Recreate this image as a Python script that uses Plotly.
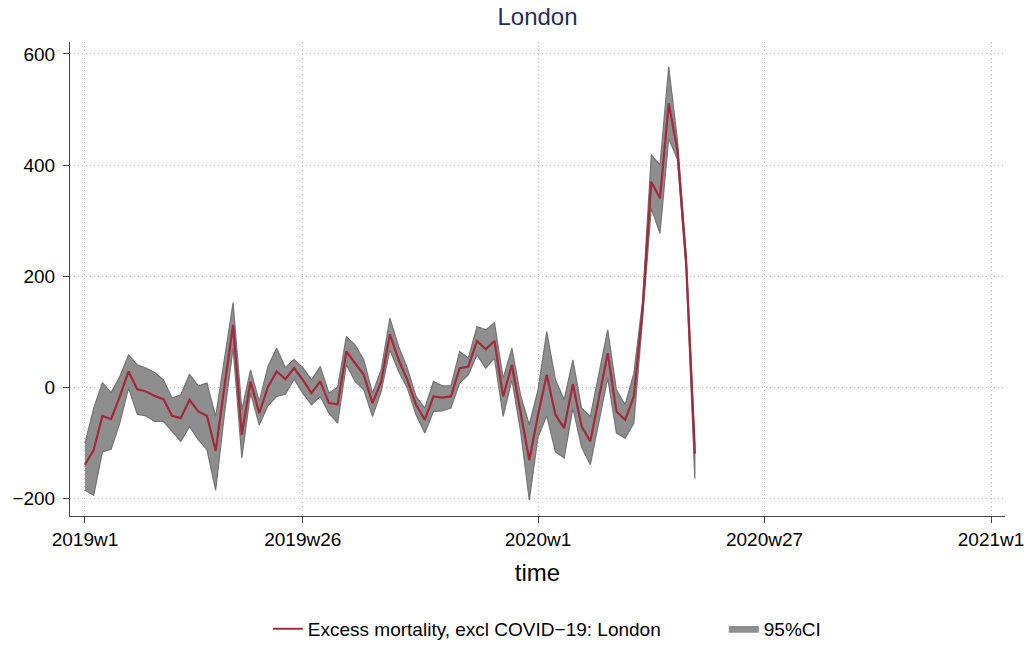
import plotly.graph_objects as go

# week index: 0 = 2019w1, 52 = 2020w1 (52 weeks per year)
weeks = list(range(71))

excess = [-140, -113, -52, -58, -17, 28, -4, -8, -16, -22,
          -52, -56, -23, -44, -52, -115, 0, 112, -86, 10,
          -47, 0, 28, 14, 34, 13, -11, 10, -29, -31,
          64, 43, 22, -29, 10, 95, 49, 13, -32, -59,
          -17, -19, -17, 34, 37, 83, 68, 83, -17, 40,
          -45, -132, -50, 22, -50, -74, 5, -71, -98, -20,
          61, -44, -59, -17, 139, 370, 340, 511, 427, 225,
          -120]

ci_upper = [-101, -38, 8, -10, 19, 58, 40, 34, 26, 13,
            -20, -14, 23, 2, 7, -53, 50, 152, -41, 31,
            -26, 37, 70, 35, 50, 35, 13, 37, -11, 0,
            91, 76, 49, -11, 31, 124, 73, 34, -17, -38,
            10, 2, 2, 64, 52, 109, 103, 116, 16, 70,
            -15, -68, -5, 100, 13, -23, 49, -38, -53, 25,
            103, -5, -32, 25, 155, 418, 400, 577, 445, 240,
            -100]

ci_lower = [-186, -195, -117, -112, -65, -2, -49, -52, -62, -62,
            -80, -98, -71, -95, -113, -186, -50, 70, -128, -11,
            -68, -34, -17, -13, 14, -11, -32, -17, -47, -65,
            40, 10, -5, -53, -8, 67, 28, -2, -50, -83,
            -44, -43, -38, 7, 22, 58, 34, 52, -53, 13,
            -80, -204, -90, -52, -117, -128, -38, -108, -140, -65,
            16, -83, -92, -65, 123, 322, 277, 448, 410, 210,
            -165]

tick_weeks = [0, 25, 52, 78, 104]
tick_labels = ["2019w1", "2019w26", "2020w1", "2020w27", "2021w1"]
y_ticks = [-200, 0, 200, 400, 600]

FONT = "Liberation Sans, Arial, sans-serif"

fig = go.Figure()

# 95% CI band as one closed polygon
fig.add_trace(go.Scatter(
    x=weeks + weeks[::-1],
    y=ci_upper + ci_lower[::-1],
    fill="toself",
    fillcolor="#8e8e8e",
    line=dict(color="#747474", width=1.2),
    mode="lines",
    name="95%CI",
    legendrank=2,
    hoverinfo="skip",
))

fig.add_trace(go.Scatter(
    x=weeks, y=excess,
    mode="lines",
    line=dict(color="#a32a3a", width=2.2),
    # padding keeps the wide gap before the CI entry
    name="Excess mortality, excl COVID\u221219: London" + "\u00a0" * 11,
    legendrank=1,
))

grid = dict(showgrid=True, gridcolor="#bdbdbd", griddash="1px,3px", gridwidth=1,
            showline=True, linecolor="#444444", linewidth=1,
            ticks="outside", ticklen=6, tickcolor="#444444",
            zeroline=False, automargin=False)

fig.update_layout(
    width=1034, height=649,
    paper_bgcolor="white", plot_bgcolor="white",
    margin=dict(l=70, r=29, t=42, b=133),
    font=dict(family=FONT, size=19, color="#000000"),
    title=dict(text="London", x=0.5, xref="paper", y=0.974, yref="container", yanchor="middle",
               font=dict(family=FONT, size=24, color="#1f2f5c")),
    showlegend=True,
    legend=dict(orientation="h", x=0.51, xanchor="center", xref="paper",
                y=0.031, yref="container", yanchor="middle",
                font=dict(size=19)),
    xaxis=dict(
        range=[-1.72, 105.6],
        tickmode="array", tickvals=tick_weeks, ticktext=tick_labels,
        title=dict(text="time", font=dict(size=24), standoff=15),
        **grid,
    ),
    yaxis=dict(
        range=[-232.4, 621.6],
        tickmode="array", tickvals=y_ticks,
        ticklabelstandoff=4,
        **grid,
    ),
)

# the page's default body margin would shift the figure by 8px
fig.write_html("out.html", config={"displayModeBar": False},
               post_script="document.body.style.margin='0';")
